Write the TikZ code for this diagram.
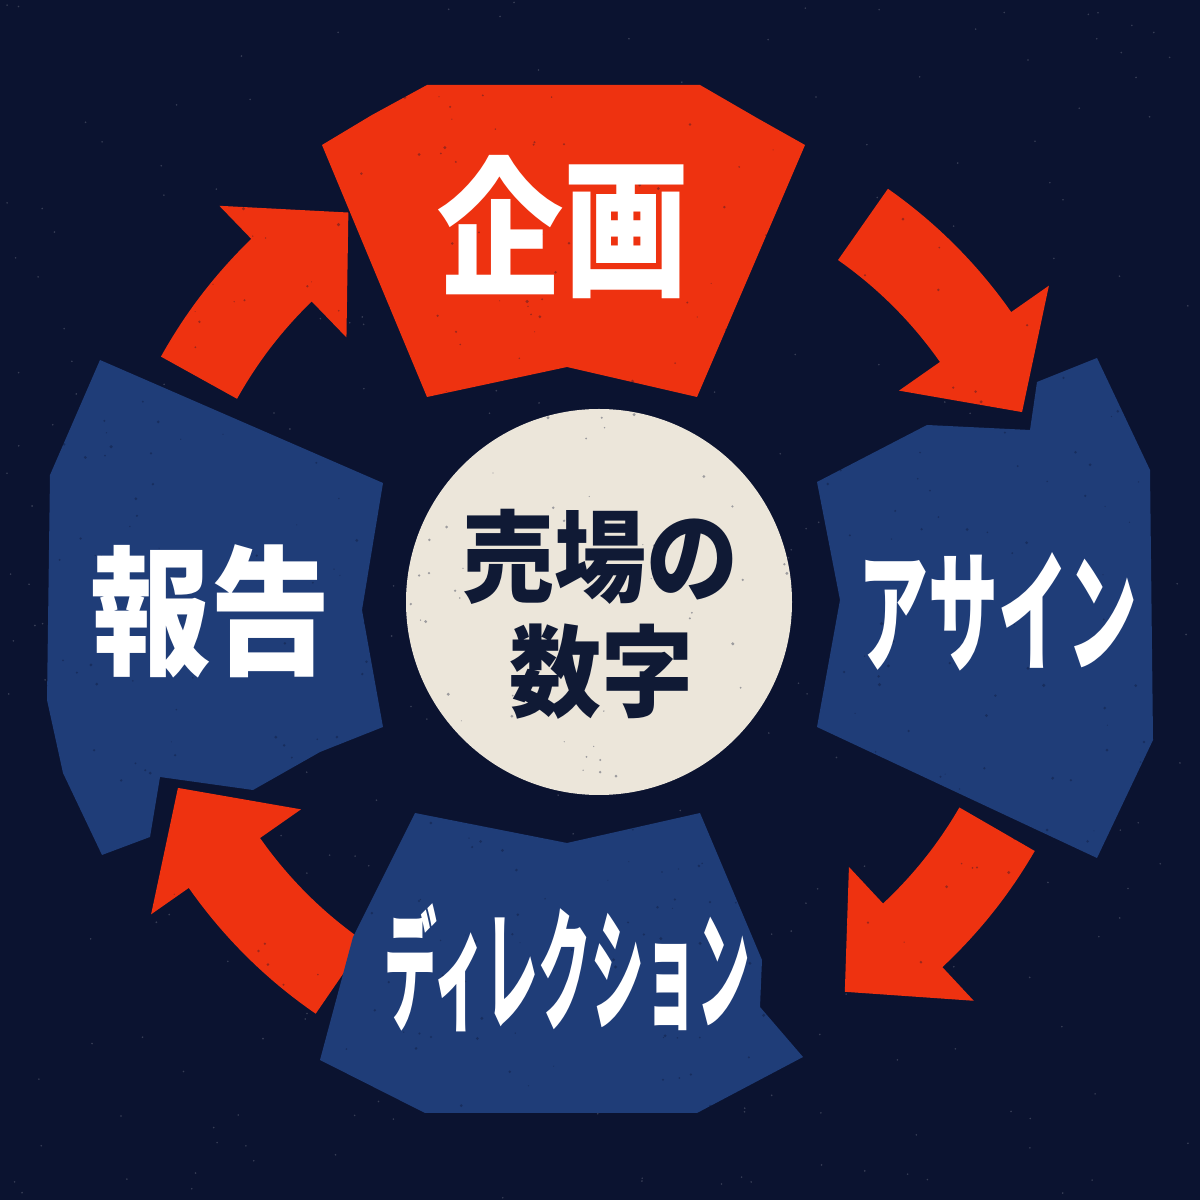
\documentclass[tikz,border=0pt]{standalone}
\usepackage{fontspec}
\newfontfamily\cjk{Noto Sans CJK JP}[BoldFont={Noto Sans CJK JP Black}]
\definecolor{bgnavy}{HTML}{0B1330}
\definecolor{cycred}{HTML}{EE3210}
\definecolor{cycblue}{HTML}{1F3D78}
\definecolor{cream}{HTML}{ECE6DA}
\definecolor{inktext}{HTML}{101A35}
\tikzset{
  redpanel/.style={fill=cycred},
  bluepanel/.style={fill=cycblue},
  whitelabel/.style={text=white,inner sep=0pt,font=\cjk\bfseries},
  centerlabel/.style={text=inktext,inner sep=0pt,font=\cjk\bfseries\fontsize{50}{54}\selectfont},
}
\newcommand\cycarrow[3]{%
  \fill[redpanel] plot[domain=#1:#2,samples=20] ({600+502*cos(\x)},{600+502*sin(\x)})
    -- ({600+548*cos(#2)},{600+548*sin(#2)})
    -- ({600+462*cos(#3)},{600+462*sin(#3)})
    -- ({600+365*cos(#2)},{600+365*sin(#2)})
    -- plot[domain=#2:#1,samples=20] ({600+415*cos(\x)},{600+415*sin(\x)})
    -- cycle;}
\begin{document}
\begin{tikzpicture}[x=0.5pt,y=0.5pt]
\useasboundingbox (0,0) rectangle (1200,1200);
\fill[bgnavy] (0,0) rectangle (1200,1200);
% faint specks
\pgfmathsetseed{11}
\foreach \i in {1,...,350}{
  \fill[white,opacity=0.18] ({rnd*1200},{rnd*1200}) circle (0.9);
}
% arrows
\cycarrow{55}{35}{24}
\cycarrow{-30}{-47}{-58}
\cycarrow{235.5}{215}{204}
\cycarrow{151}{134}{123}
% panels
\fill[redpanel] (322,1055) -- (372,1085) -- (427,1115) -- (700,1115) -- (757,1082)
  -- (805,1055) -- (697,803) -- (567,833) -- (427,803) -- cycle;
\fill[bluepanel] (817,718) -- (927,775) -- (1030,770) -- (1037,818) -- (1097,842)
  -- (1150,730) -- (1153,460) -- (1097,342) -- (817,473) -- (840,600) -- cycle;
\fill[bluepanel] (415,387) -- (567,357) -- (700,387) -- (762,240) -- (760,193)
  -- (803,143) -- (697,87) -- (425,87) -- (320,140) -- (353,263) -- cycle;
\fill[bluepanel] (100,840) -- (383,717) -- (362,590) -- (383,473) -- (320,448)
  -- (253,410) -- (160,423) -- (150,363) -- (102,345) -- (63,427) -- (47,500)
  -- (50,725) -- cycle;
% centre disc
\node[circle,fill=cream,minimum size=193pt,inner sep=0pt] (hub) at (599,598) {};
% worn grunge specks
\pgfmathsetseed{5}
\foreach \i in {1,...,700}{
  \fill[bgnavy,opacity=0.35] ({rnd*1200},{rnd*1200}) circle ({0.5+rnd*1.2});
}
\node[centerlabel] (hubA) at (600,643) {\scalebox{0.92}[1]{売場の}};
\node[centerlabel] (hubB) at (601,528) {\scalebox{0.92}[1]{数字}};
% labels
\node[whitelabel,font=\cjk\bfseries\fontsize{75}{80}\selectfont] (plan) at (563,973) {\scalebox{0.84}[1]{企画}};
\node[whitelabel,font=\cjk\bfseries\fontsize{70}{74}\selectfont] (report) at (211,589) {\scalebox{0.86}[1]{報告}};
\node[whitelabel,font=\cjk\bfseries\fontsize{66}{70}\selectfont] (assign) at (998,588) {\scalebox{0.53}[1]{アサイン}};
\node[whitelabel,font=\cjk\bfseries\fontsize{66}{70}\selectfont] (direct) at (567,232) {\scalebox{0.40}[1]{ディレクション}};
\end{tikzpicture}
\end{document}
